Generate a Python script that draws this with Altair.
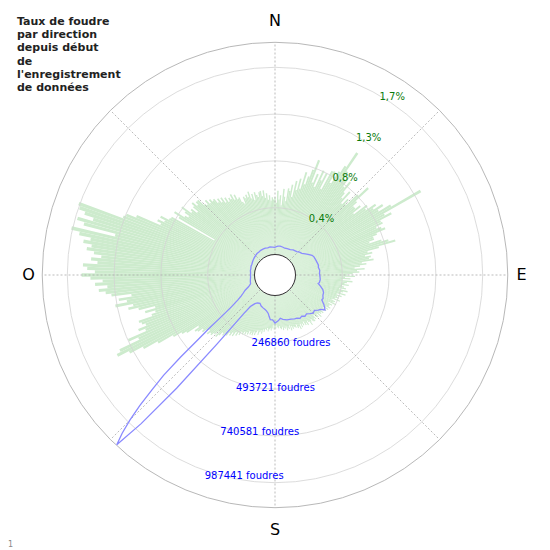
import math
import altair as alt
import pandas as pd

# ---------------- data ----------------
# green bars: lightning rate (%) for each 1-degree direction, 0..359 (clockwise from N)
green_pct = [
    0.52, 0.47, 0.58, 0.50, 0.54, 0.45, 0.60, 0.53, 0.49, 0.61,
    0.59, 0.65, 0.54, 0.69, 0.61, 0.72, 0.63, 0.79, 0.68, 0.76,
    0.83, 0.93, 0.72, 0.81, 0.69, 0.86, 0.77, 0.85, 0.70, 0.89,
    0.90, 0.79, 0.92, 0.99, 1.15, 0.96, 0.89, 0.94, 0.83, 0.90,
    0.79, 0.74, 0.83, 0.70, 0.77, 0.72, 0.86, 0.97, 0.81, 0.76,
    0.76, 0.81, 0.72, 0.86, 0.83, 0.93, 0.89, 0.98, 0.92, 1.04,
    1.34, 0.95, 1.01, 0.89, 0.90, 0.83, 0.87, 0.90, 0.81, 0.77,
    0.77, 0.72, 0.83, 0.89, 0.95, 0.79, 0.68, 0.72, 0.65, 0.70,
    0.68, 0.72, 0.61, 0.65, 0.59, 0.54, 0.63, 0.56, 0.58, 0.52,
    0.47, 0.54, 0.45, 0.50, 0.43, 0.52, 0.47, 0.45, 0.49, 0.43,
    0.45, 0.47, 0.41, 0.49, 0.45, 0.43, 0.48, 0.40, 0.45, 0.41,
    0.43, 0.40, 0.45, 0.38, 0.41, 0.40, 0.43, 0.36, 0.40, 0.38,
    0.38, 0.40, 0.36, 0.39, 0.34, 0.38, 0.36, 0.33, 0.37, 0.35,
    0.36, 0.34, 0.38, 0.33, 0.36, 0.35, 0.32, 0.36, 0.34, 0.37,
    0.36, 0.33, 0.35, 0.38, 0.34, 0.32, 0.36, 0.33, 0.35, 0.31,
    0.34, 0.32, 0.35, 0.31, 0.36, 0.33, 0.34, 0.30, 0.33, 0.32,
    0.31, 0.33, 0.30, 0.34, 0.29, 0.32, 0.31, 0.33, 0.29, 0.31,
    0.30, 0.32, 0.29, 0.31, 0.30, 0.28, 0.30, 0.29, 0.27, 0.30,
    0.29, 0.31, 0.27, 0.30, 0.32, 0.30, 0.31, 0.33, 0.30, 0.32,
    0.31, 0.34, 0.32, 0.36, 0.33, 0.35, 0.38, 0.34, 0.36, 0.39,
    0.36, 0.40, 0.38, 0.40, 0.37, 0.41, 0.39, 0.42, 0.40, 0.43,
    0.41, 0.45, 0.43, 0.47, 0.44, 0.49, 0.46, 0.50, 0.48, 0.52,
    0.51, 0.54, 0.52, 0.56, 0.59, 0.54, 0.58, 0.61, 0.60, 0.63,
    0.59, 0.61, 0.65, 0.63, 0.68, 0.70, 0.65, 0.77, 0.81, 0.89,
    1.04, 1.18, 1.31, 1.42, 1.38, 1.18, 1.27, 1.09, 1.15, 1.07,
    1.10, 1.12, 0.99, 0.95, 1.04, 0.94, 1.09, 1.18, 1.13, 1.29,
    1.18, 1.25, 1.13, 1.31, 1.36, 1.42, 1.34, 1.45, 1.38, 1.49,
    1.57, 1.45, 1.52, 1.56, 1.43, 1.49, 1.40, 1.47, 1.54, 1.50,
    1.58, 1.52, 1.63, 1.71, 1.31, 1.61, 1.68, 1.54, 1.63, 1.69,
    1.71, 1.29, 1.27, 1.18, 0.95, 0.99, 0.93, 0.98, 0.90, 0.89,
    0.45, 0.83, 0.89, 0.79, 0.76, 0.81, 0.86, 0.76, 0.78, 0.72,
    0.78, 0.81, 0.76, 0.79, 0.79, 0.72, 0.70, 0.74, 0.69, 0.72,
    0.69, 0.70, 0.65, 0.68, 0.63, 0.67, 0.61, 0.65, 0.60, 0.63,
    0.61, 0.65, 0.59, 0.63, 0.58, 0.59, 0.54, 0.52, 0.58, 0.56,
    0.59, 0.56, 0.61, 0.54, 0.58, 0.52, 0.59, 0.56, 0.54, 0.58,
    0.59, 0.54, 0.59, 0.52, 0.56, 0.50, 0.54, 0.49, 0.52, 0.50,
]

# blue line: number of lightning strikes per direction
blue_ang = [0, 3, 6, 10, 15, 20, 25, 31, 36, 40, 43, 47, 51, 55, 58, 62, 65, 70, 74, 77,
            80, 84, 88, 92, 96, 100, 101, 104, 107, 110, 113, 116, 118, 121, 123, 125, 127,
            129, 132, 135, 138, 141, 144, 147, 150, 153, 156, 160, 165, 170, 173, 176, 180,
            183, 186, 188, 190, 193, 196, 200, 204, 208, 212, 215, 217, 218, 219, 220, 221,
            222, 223, 224, 225, 226, 227, 228, 229, 230, 231, 232, 233, 234, 236, 238, 240,
            243, 246, 250, 255, 260, 265, 270, 275, 280, 285, 290, 295, 300, 305, 310, 315,
            320, 325, 330, 335, 340, 345, 350, 355, 360]
blue_cnt = [37980, 42200, 44840, 46950, 44840, 42200, 44840, 47475, 55390, 58025, 60660,
            68575, 73850, 87040, 97590, 113410, 118690, 121330, 123960, 126600,
            123960, 129240, 126600, 129240, 131880, 129240, 123960, 139790, 155610, 164580,
            166160, 174080, 171440, 192540, 203090, 213640, 192540,
            185680, 171440, 176710, 166160, 155610, 160890, 150340, 155610, 147700, 145060,
            139790, 137150, 129240, 121850, 134510, 145060,
            129240, 129240, 113410, 97590, 87040, 81760, 76490, 71210, 60660, 65940, 76490,
            92310, 102860, 155610, 366610, 683110,
            946860, 1115660, 1052360, 973240, 883560, 778060, 683110, 551240, 419360, 340240,
            261110, 208360, 171440, 129240, 102860, 87040,
            68575, 44840, 29010, 26380, 23740, 21100, 21100, 21100, 23740, 23740, 26380,
            26380, 29010, 31650, 34290, 36930,
            39560, 39560, 42200, 42200, 42200, 39560, 42200, 39560, 37980]

# radial grid (the two radial scales share the same circles)
grid_pct = [0.425, 0.85, 1.275, 1.7]
grid_pct_labels = ["0,4%", "0,8%", "1,3%", "1,7%"]
grid_cnt = [246860, 493721, 740581, 987441]
grid_cnt_labels = ["246860 foudres", "493721 foudres", "740581 foudres", "987441 foudres"]

spoke_ang = [0, 45, 90, 135, 180, 225, 270, 315]
compass_ang = [0, 90, 180, 270]
compass_lbl = ["N", "E", "S", "O"]

title_lines = ["Taux de foudre", "par direction", "depuis début", "de",
               "l'enregistrement", "de données"]

# ---------------- geometry / scales ----------------
W = H = 534
HOLE = 20.5           # inner white disc radius (px)
FRAME = 232.7         # outer frame radius (px)
PMAX = grid_pct[-1] * (FRAME - HOLE) / (207.7 - HOLE)      # % value at the frame
CMAX = grid_cnt[-1] * PMAX / grid_pct[-1]                  # count value at the frame
K = (FRAME - HOLE) / CMAX                                  # px per strike
C0 = HOLE / K                                              # hole expressed in strikes
D = (W / 2) / K                                            # half-extent of cartesian scale

tscale = alt.Scale(domain=[0, 360], range=[0, 2 * math.pi])
rscale = alt.Scale(type="linear", domain=[0, PMAX], range=[HOLE, FRAME])
xscale = alt.Scale(domain=[-D, D], nice=False, zero=False)
yscale = alt.Scale(domain=[-D, D], nice=False, zero=False)

FONT = "DejaVu Sans"

bars_df = pd.DataFrame({"deg": list(range(360)), "pct": green_pct})
bars_df["t0"] = bars_df["deg"] - 0.5
bars_df["t1"] = bars_df["deg"] + 0.5

blue_df = pd.DataFrame({"ang": blue_ang, "cnt": blue_cnt})
grid_df = pd.DataFrame({"pct": grid_pct, "plbl": grid_pct_labels,
                        "cnt": grid_cnt, "clbl": grid_cnt_labels})
spoke_df = pd.DataFrame({"ang": spoke_ang})
compass_df = pd.DataFrame({"ang": compass_ang, "lbl": compass_lbl})
one_df = pd.DataFrame({"k": [0]})
title_df = pd.DataFrame({"t": ["\n".join(title_lines)]})
foot_df = pd.DataFrame({"t": ["1"]})

bars = alt.Chart(bars_df).mark_arc(color="#cdebcd").encode(
    theta=alt.Theta("t0:Q", scale=tscale, stack=False),
    theta2="t1:Q",
    radius=alt.Radius("pct:Q", scale=rscale, stack=False),
    radius2=alt.value(HOLE),
)

grid = alt.Chart(grid_df).mark_arc(filled=False, stroke="#d3d3d3", strokeWidth=0.8).encode(
    theta=alt.value(0),
    theta2=alt.value(2 * math.pi),
    radius=alt.Radius("pct:Q", scale=rscale, stack=False),
)

frame = alt.Chart(one_df).mark_arc(filled=False, stroke="#b8b8b8", strokeWidth=1).encode(
    theta=alt.value(0),
    theta2=alt.value(2 * math.pi),
    radius=alt.value(FRAME),
)

spokes = alt.Chart(spoke_df).transform_calculate(
    x0=f"{C0} * sin(datum.ang * PI / 180)",
    y0=f"{C0} * cos(datum.ang * PI / 180)",
    x1=f"{C0 + CMAX} * sin(datum.ang * PI / 180)",
    y1=f"{C0 + CMAX} * cos(datum.ang * PI / 180)",
).mark_rule(color="#aaaaaa", strokeWidth=0.8, strokeDash=[2, 2]).encode(
    x=alt.X("x0:Q", scale=xscale, axis=None),
    y=alt.Y("y0:Q", scale=yscale, axis=None),
    x2="x1:Q",
    y2="y1:Q",
)

line = alt.Chart(blue_df).transform_calculate(
    x=f"(datum.cnt + {C0}) * sin(datum.ang * PI / 180)",
    y=f"(datum.cnt + {C0}) * cos(datum.ang * PI / 180)",
).mark_line(color="#8a8aff", strokeWidth=1.3).encode(
    x=alt.X("x:Q", scale=xscale, axis=None),
    y=alt.Y("y:Q", scale=yscale, axis=None),
    order=alt.Order("ang:Q"),
)

hole = alt.Chart(one_df).mark_arc(fill="white", stroke="#333333", strokeWidth=1).encode(
    theta=alt.value(0),
    theta2=alt.value(2 * math.pi),
    radius=alt.value(HOLE),
)

pct_text = alt.Chart(grid_df).mark_text(
    align="left", baseline="middle", dy=2,
    font=FONT, fontSize=10, color="#0a7a0a",
).encode(theta=alt.value(math.radians(30.2)),
         radius=alt.Radius("pct:Q", scale=rscale, stack=False), text="plbl:N")

cnt_text = alt.Chart(grid_df).mark_text(
    align="left", baseline="middle", dx=-1, dy=5,
    font=FONT, fontSize=10, color="#0000ff",
).encode(theta=alt.value(math.radians(199.5)),
         radius=alt.Radius("pct:Q", scale=rscale, stack=False), text="clbl:N")

compass_ns = alt.Chart(compass_df).transform_filter(
    "datum.ang == 0 || datum.ang == 180"
).mark_text(align="center", baseline="middle",
            font=FONT, fontSize=16, color="#000000").encode(
    theta=alt.Theta("ang:Q", scale=tscale, stack=False),
    radius=alt.value(254.5), text="lbl:N")

compass_eo = alt.Chart(compass_df).transform_filter(
    "datum.ang == 90 || datum.ang == 270"
).mark_text(align="center", baseline="middle",
            font=FONT, fontSize=16, color="#000000").encode(
    theta=alt.Theta("ang:Q", scale=tscale, stack=False),
    radius=alt.value(246.5), text="lbl:N")

title = alt.Chart(title_df).mark_text(
    align="left", baseline="alphabetic", lineBreak="\n", lineHeight=13.2,
    font=FONT, fontSize=11, fontWeight="bold", color="#222222",
).encode(x=alt.value(9), y=alt.value(17), text="t:N")

foot = alt.Chart(foot_df).mark_text(
    align="left", baseline="middle", font=FONT, fontSize=8, color="#888888",
).encode(x=alt.value(0), y=alt.value(537), text="t:N")

chart = alt.layer(
    bars, grid, spokes, frame, line, hole, pct_text, cnt_text,
    compass_ns, compass_eo, title, foot,
).properties(
    width=W, height=H,
    padding={"left": 0, "top": 0, "right": 0, "bottom": 8},
    autosize=alt.AutoSizeParams(type="none"),
).configure_view(stroke=None)

chart.save("out.html", embed_options={"renderer": "svg", "actions": False})
